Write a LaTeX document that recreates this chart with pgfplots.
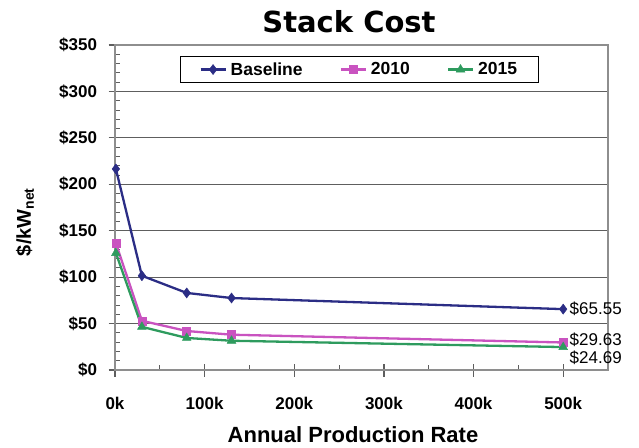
\documentclass[border=0pt]{standalone}
\usepackage{pgfplots}
\pgfplotsset{compat=1.18}
\usepackage{fontspec}
\setmainfont{Liberation Sans}
\newfontfamily\titlefont{DejaVu Sans}

\definecolor{basecol}{HTML}{2B2D85}
\definecolor{col2010}{HTML}{C953C0}
\definecolor{col2015}{HTML}{2E9B5E}
\definecolor{gridgray}{HTML}{5E5E5E}
\definecolor{framegray}{HTML}{8E8E8E}

\begin{document}
\begin{tikzpicture}[x=1pt,y=1pt]
\useasboundingbox (0,0) rectangle (639,447);
\begin{axis}[
  at={(115pt,77pt)}, anchor=south west,
  scale only axis, width=493pt, height=325pt,
  xmin=0, xmax=550000, ymin=0, ymax=350,
  xtick={0,100000,200000,300000,400000,500000},
  xticklabels={0k,100k,200k,300k,400k,500k},
  minor x tick num=1,
  ytick={0,50,100,150,200,250,300,350},
  yticklabels={\$0,\$50,\$100,\$150,\$200,\$250,\$300,\$350},
  minor y tick num=4,
  scaled x ticks=false,
  tick pos=left,
  tick align=center,
  major tick length=13pt,
  minor tick length=5pt,
  every minor x tick/.append style={yshift=2.5pt},
  every minor y tick/.append style={xshift=2.5pt},
  major tick style={gridgray, line width=1.2pt},
  minor tick style={gridgray, line width=1pt},
  axis line style={framegray, line width=1.2pt},
  ymajorgrids,
  major grid style={gridgray, line width=1pt},
  ticklabel style={font=\bfseries\fontsize{17}{20}\selectfont},
  xticklabel style={yshift=-17pt},
  yticklabel style={xshift=-8pt},
  clip=false,
  legend style={at={(0.1318,0.966)}, anchor=north west,
    legend columns=3, draw=black, line width=0.8pt, fill=white,
    font=\bfseries\fontsize{17.5}{21}\selectfont,
    inner xsep=19pt, inner ysep=4pt,
    /tikz/every odd column/.append style={column sep=2pt},
    /tikz/every even column/.append style={column sep=35pt}},
  legend image code/.code={%
    \draw[mark repeat=2,mark phase=2,#1] plot coordinates {(0pt,0pt) (12.5pt,0pt) (25pt,0pt)};},
]
\addplot[basecol, line width=2.3pt, mark=diamond*, mark size=5pt,
  mark options={solid, line width=0.5pt}]
  coordinates {(1000,216.5) (30000,101.5) (80000,83) (130000,77.5) (500000,65.55)};
\addlegendentry{Baseline}
\addplot[col2010, line width=2.3pt, mark=square*, mark size=4pt,
  mark options={solid, line width=0.5pt}]
  coordinates {(1000,136.5) (30000,53) (80000,42) (130000,38) (500000,29.63)};
\addlegendentry{2010}
\addplot[col2015, line width=2.3pt, mark=triangle*, mark size=5pt,
  mark options={solid, line width=0.5pt}]
  coordinates {(1000,126) (30000,46.5) (80000,34.5) (130000,31.5) (500000,24.69)};
\addlegendentry{2015}

\node[anchor=west, xshift=3pt, font=\fontsize{17}{20}\selectfont]
  at (axis cs:500000,65.55) {\$65.55};
\node[anchor=west, xshift=3pt, yshift=3pt, font=\fontsize{17}{20}\selectfont]
  at (axis cs:500000,29.63) {\$29.63};
\node[anchor=west, xshift=3pt, yshift=-11pt, font=\fontsize{17}{20}\selectfont]
  at (axis cs:500000,24.69) {\$24.69};
\end{axis}

% title and axis labels
\node[anchor=base, font=\titlefont\bfseries\fontsize{29}{34}\selectfont]
  at (349,414) {Stack Cost};
\node[anchor=base, font=\bfseries\fontsize{22}{26}\selectfont]
  at (353,5) {Annual Production Rate};
\node[rotate=90, font=\bfseries\fontsize{20}{24}\selectfont]
  at (25,225) {\$/kW\textsubscript{net}};
\end{tikzpicture}
\end{document}
